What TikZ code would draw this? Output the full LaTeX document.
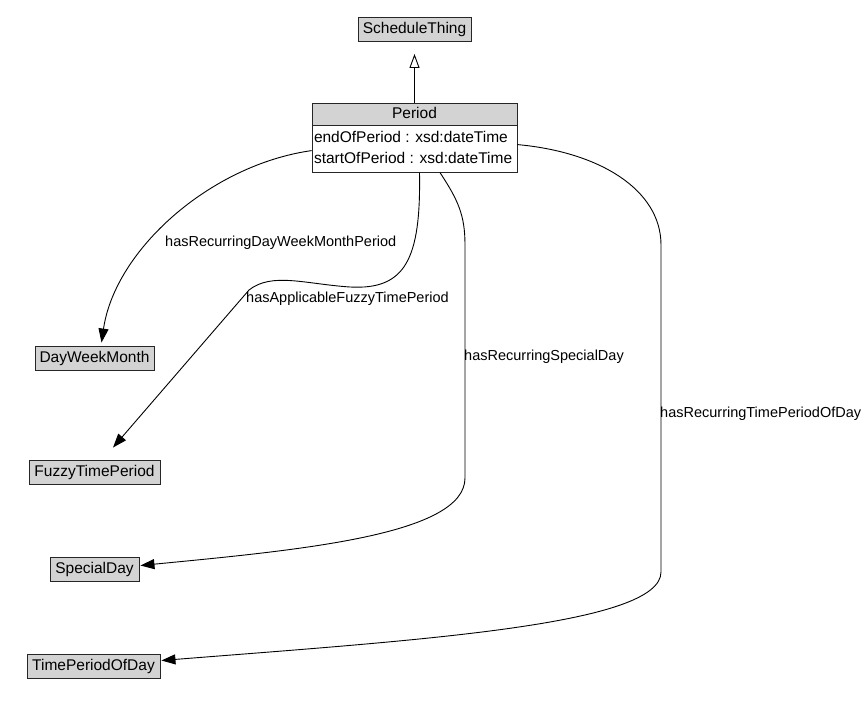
\documentclass[tikz,border=0pt]{standalone}
\usepackage{fontspec}
\setmainfont{Liberation Sans}
\usetikzlibrary{arrows.meta,calc,shapes.multipart}

\definecolor{classgray}{RGB}{211,211,211}

\tikzset{
    umlfont/.style={font=\fontsize{14.5}{17}\selectfont},
    classfont/.style={font=\fontsize{15.5}{18}\selectfont},
    klass/.style={draw=black!85, line width=0.9pt, fill=classgray, classfont, inner xsep=3pt, minimum height=24pt},
    assoc/.style={draw, line width=0.9pt, -{Triangle[length=14pt,width=10pt]}},
    gen/.style={draw, line width=0.9pt, -{Triangle[open,length=14pt,width=10pt]}, shorten >=12pt},
    rolelabel/.style={umlfont, inner sep=0pt, anchor=west}
}

\begin{document}
\begin{tikzpicture}[x=1pt, y=-1pt]
        \useasboundingbox (0,0) rectangle (867,717);

        % Classes
        \node[klass, minimum width=113pt] (schedule) at (414.5,29.5) {ScheduleThing};
        \node[draw=black!85, line width=0.9pt, classfont, rectangle split, rectangle split parts=2,
              rectangle split part fill={classgray,white}, rectangle split part align={center,left},
              minimum width=205pt, inner xsep=2pt, inner ysep=2pt, anchor=north] (period) at (414.5,102.5)
              {\strut Period\nodepart{second}\def\arraystretch{1.15}\begin{tabular}{@{}l@{}}endOfPeriod : xsd:dateTime\\startOfPeriod : xsd:dateTime\end{tabular}};
        \node[klass, minimum width=119pt] (dwm) at (94.5,358) {DayWeekMonth};
        \node[klass, minimum width=131pt] (fuzzy) at (94.5,472) {FuzzyTimePeriod};
        \node[klass, minimum width=89pt] (special) at (94.5,569.5) {SpecialDay};
        \node[klass, minimum width=133pt] (tpod) at (93.5,666.5) {TimePeriodOfDay};

        % Generalization
        \draw[gen] (period) -- (schedule);

        % Associations
        \draw[assoc] ($(period.south west)+(0,-22)$) .. controls (210,165) and (115,250) .. ($(dwm.north)+(7,-3)$);
        \draw[assoc] ($(period.south)+(5,0)$) .. controls (421,260) and (405,290) .. (350,287)
            .. controls (305,284) and (272,272) .. (249,290) -- ($(fuzzy.north)+(18.5,-12)$);
        \draw[assoc] ($(period.south)+(25.5,0)$) .. controls (458,200) and (465,215) .. (465,245) -- (465,478)
            .. controls (465,535) and (300,550) .. ($(special.east)+(1,-4)$);
        \draw[assoc] ($(period.south east)+(0,-28)$) .. controls (600,152) and (661,190) .. (661,245) -- (661,572)
            .. controls (661,625) and (420,640) .. ($(tpod.east)+(1,-6)$);

        % Role names
        \node[rolelabel] (ldwm) at (165,243) {hasRecurringDayWeekMonthPeriod};
        \node[rolelabel] (lfuzzy) at (246,299) {hasApplicableFuzzyTimePeriod};
        \node[rolelabel] (lspecial) at (464,357) {hasRecurringSpecialDay};
        \node[rolelabel] (ltpod) at (660,414) {hasRecurringTimePeriodOfDay};
\end{tikzpicture}
\end{document}
